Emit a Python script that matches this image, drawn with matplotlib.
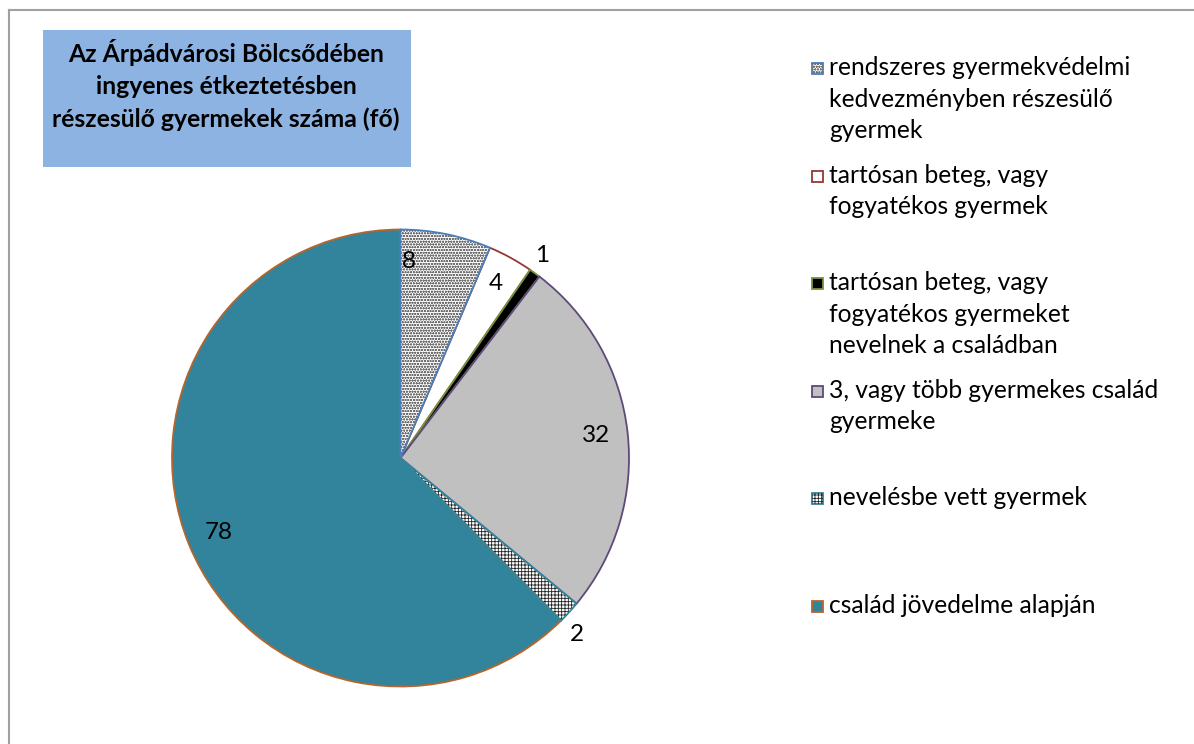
import numpy as np
import matplotlib.pyplot as plt
from matplotlib.patches import Wedge, Rectangle
from matplotlib.lines import Line2D

plt.rcParams['font.family'] = ['Lato', 'DejaVu Sans']

categories = [
    "rendszeres gyermekvédelmi\nkedvezményben részesülő\ngyermek",
    "tartósan beteg, vagy\nfogyatékos gyermek",
    "tartósan beteg, vagy\nfogyatékos gyermeket\nnevelnek a családban",
    "3, vagy több gyermekes család\ngyermeke",
    "nevelésbe vett gyermek",
    "család jövedelme alapján",
]
values = [8, 4, 1, 32, 2, 78]
title = "Az Árpádvárosi Bölcsődében\ningyenes étkeztetésben\nrészesülő gyermekek száma (fő)"

fills = ['white', 'white', 'black', '#c0c0c0', 'white', '#31849b']
edges = ['#4a7ebb', '#953735', '#77933c', '#5f497a', '#31859c', '#b5652d']
hatches = ['oooooo', None, None, None, '+++++', None]
hatch_cols = ['#707070', None, None, None, '#222222', None]
# label radius (fraction of pie radius) and angle nudge in degrees
lab_r = [0.86, 0.87, 1.08, 0.86, 1.09, 0.86]
lab_shift = [9, 0, 1, 0, -2.5, 0]

W, H = 1194, 744
fig = plt.figure(figsize=(W / 100, H / 100), dpi=100)

# outer frame (top and left visible)
fig.add_artist(Line2D([9 / W, 9 / W], [0, 1 - 10 / H], color='#a0a0a0', lw=1.5))
fig.add_artist(Line2D([9 / W, 1], [1 - 10 / H, 1 - 10 / H], color='#a0a0a0', lw=1.5))

# pie axes: centre (400.5, 458) px, radius 228.5 px
cx, cy, r = 400.5, 458, 228.5
ax = fig.add_axes([(cx - r) / W, 1 - (cy + r) / H, 2 * r / W, 2 * r / H])

wedges, _ = ax.pie(values, startangle=90, counterclock=False, radius=1,
                   colors=fills, wedgeprops=dict(linewidth=1.3))
plt.rcParams['hatch.linewidth'] = 0.6
for i, w in enumerate(wedges):
    w.set_edgecolor(edges[i])
    if hatches[i]:
        w.set_facecolor('none')
        w.set_zorder(3)
        ax.add_patch(Wedge((0, 0), 1, w.theta1, w.theta2, facecolor=fills[i],
                           lw=0, zorder=1))
        ax.add_patch(Wedge((0, 0), 1, w.theta1, w.theta2, facecolor='none',
                           edgecolor=hatch_cols[i], hatch=hatches[i], lw=0,
                           zorder=2))
    mid = np.deg2rad((w.theta1 + w.theta2) / 2 + lab_shift[i])
    ax.text(lab_r[i] * np.cos(mid), lab_r[i] * np.sin(mid), str(values[i]),
            ha='center', va='center', fontsize=17.5, zorder=5)

ax.set_xlim(-1, 1)
ax.set_ylim(-1, 1)
ax.set_aspect('equal')
ax.axis('off')

# title box
fig.add_artist(Rectangle((43 / W, 1 - 167 / H), (411 - 43) / W, (167 - 30) / H,
                         facecolor='#8db3e2', edgecolor='none'))
fig.text(226 / W, 1 - 85 / H, title, ha='center', va='center', fontsize=17.8,
         fontweight='bold', linespacing=1.5)

# legend drawn by hand so entries are evenly spaced
y0, step = 68, 107.6
for i, lab in enumerate(categories):
    y = y0 + i * step
    fig.add_artist(Rectangle((812 / W, 1 - (y + 6) / H), 11 / W, 11 / H,
                             facecolor=fills[i], edgecolor=edges[i], lw=1.3))
    if hatches[i]:
        fig.add_artist(Rectangle((812 / W, 1 - (y + 6) / H), 11 / W, 11 / H,
                                 facecolor='none', edgecolor=hatch_cols[i],
                                 hatch=hatches[i], lw=0))
    fig.text(829 / W, 1 - (y - 12) / H, lab, ha='left', va='top', fontsize=17.7,
             linespacing=1.45)

fig.savefig('out.png', dpi=100)
